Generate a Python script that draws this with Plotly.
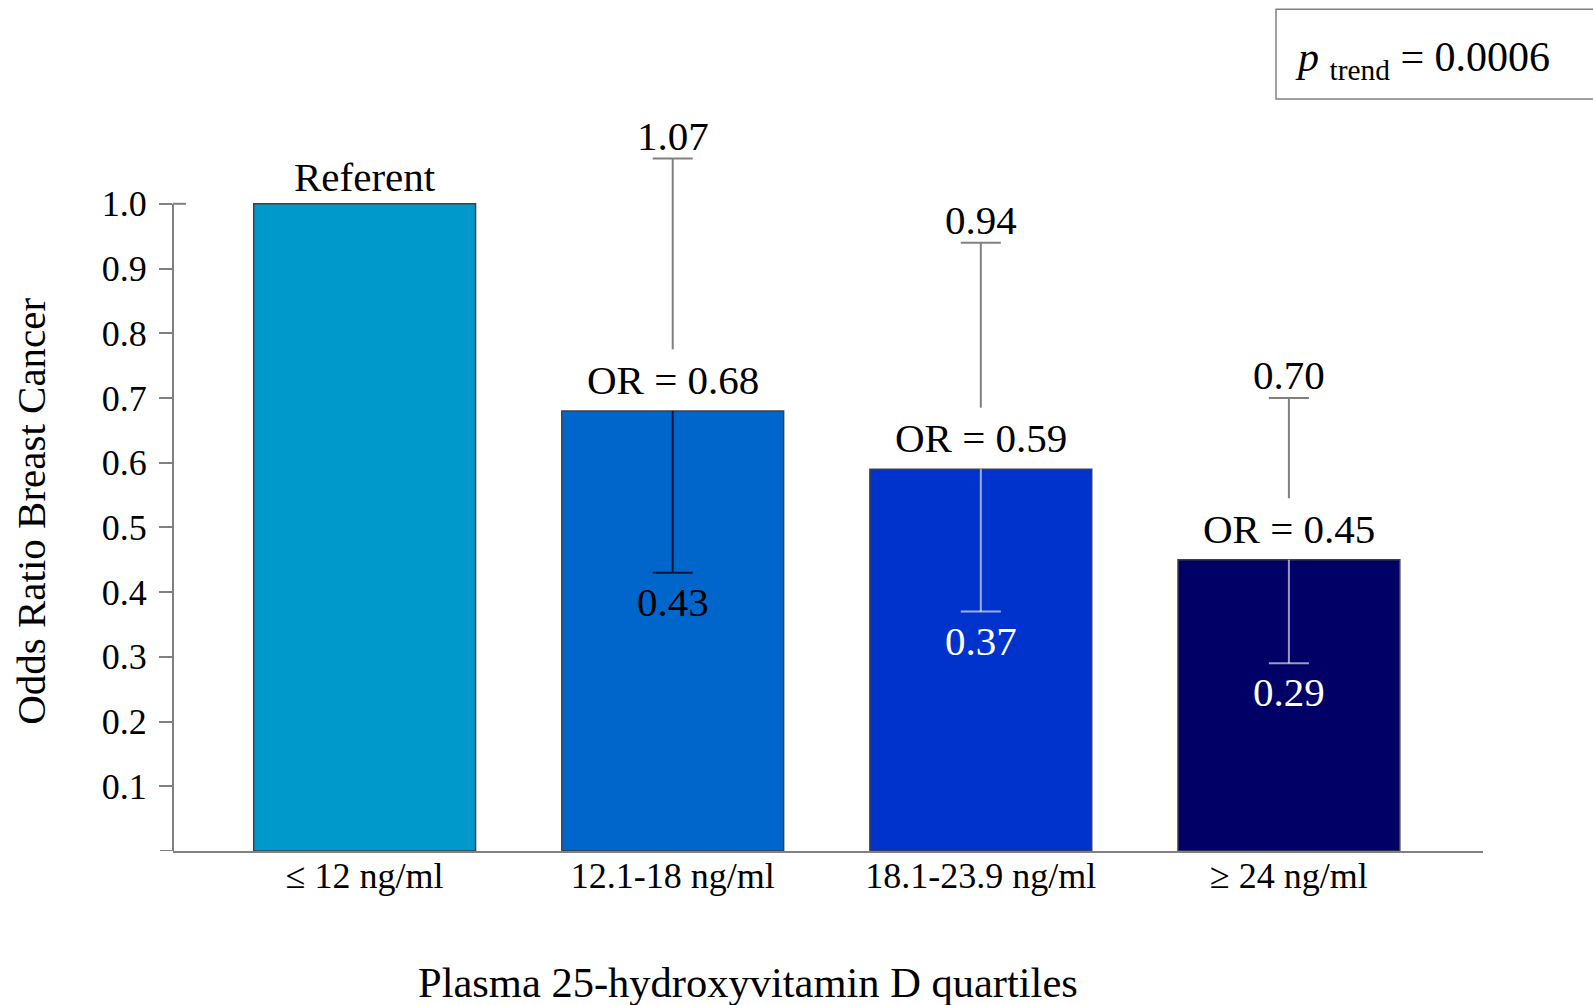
import plotly.graph_objects as go

# ---- data ----
categories = ["≤ 12 ng/ml", "12.1-18 ng/ml", "18.1-23.9 ng/ml", "≥ 24 ng/ml"]
odds_ratio = [1.0, 0.68, 0.59, 0.45]
ci_upper = [None, 1.07, 0.94, 0.70]
ci_lower = [None, 0.43, 0.37, 0.29]
or_labels = ["Referent", "OR = 0.68", "OR = 0.59", "OR = 0.45"]
ytick_vals = [0.1, 0.2, 0.3, 0.4, 0.5, 0.6, 0.7, 0.8, 0.9, 1.0]
ytick_text = ["0.1", "0.2", "0.3", "0.4", "0.5", "0.6", "0.7", "0.8", "0.9", "1.0"]

# ---- style ----
bar_colors = ["#0099CC", "#0066CC", "#0033CC", "#000066"]
lower_line_colors = [None, "rgba(10,20,50,0.95)", "rgba(255,255,255,0.6)", "rgba(255,255,255,0.6)"]
lower_text_colors = [None, "black", "white", "white"]
FONT = "Liberation Serif, Times New Roman, serif"
GRAY = "#808080"
cap_half = 0.065
label_gap = 0.095
PLOT_W = 1593 - 173 - 110
TICK_LEN = 13

xs = list(range(len(categories)))

fig = go.Figure()
fig.add_trace(go.Bar(
    x=xs, y=odds_ratio, width=0.72,
    marker=dict(color=bar_colors, line=dict(color="#404040", width=1.5)),
    showlegend=False, hoverinfo="skip",
))

# upper whiskers (gray, above label)
ux, uy = [], []
for i, (o, hi) in enumerate(zip(odds_ratio, ci_upper)):
    if hi is None:
        continue
    ux += [i, i, None, i - cap_half, i + cap_half, None]
    uy += [hi, o + label_gap, None, hi, hi, None]
fig.add_trace(go.Scatter(x=ux, y=uy, mode="lines", line=dict(color=GRAY, width=2),
                         showlegend=False, hoverinfo="skip"))

# lower whiskers (inside bars)
for i, (o, lo) in enumerate(zip(odds_ratio, ci_lower)):
    if lo is None:
        continue
    fig.add_trace(go.Scatter(
        x=[i, i, None, i - cap_half, i + cap_half], y=[o, lo, None, lo, lo],
        mode="lines", line=dict(color=lower_line_colors[i], width=2),
        showlegend=False, hoverinfo="skip"))

# OR labels above bars
for i, (o, lab) in enumerate(zip(odds_ratio, or_labels)):
    fig.add_annotation(x=i, y=o, xref="x", yref="y", text=lab, showarrow=False,
                       xanchor="center", yanchor="middle", yshift=(27 if i == 0 else 31),
                       font=dict(family=FONT, size=41, color="black"))
# CI labels
for i, (hi, lo) in enumerate(zip(ci_upper, ci_lower)):
    if hi is None:
        continue
    fig.add_annotation(x=i, y=hi, xref="x", yref="y", text=f"{hi:.2f}", showarrow=False,
                       xanchor="center", yanchor="middle", yshift=23,
                       font=dict(family=FONT, size=41, color="black"))
    fig.add_annotation(x=i, y=lo, xref="x", yref="y", text=f"{lo:.2f}", showarrow=False,
                       xanchor="center", yanchor="middle", yshift=-29,
                       font=dict(family=FONT, size=41, color=lower_text_colors[i]))

# y axis line up to top tick, right-side tick at top, and tick at origin
ytop = max(ytick_vals)
fig.add_shape(type="line", xref="paper", yref="y", x0=0, x1=0, y0=0, y1=ytop,
              line=dict(color=GRAY, width=2))
fig.add_shape(type="line", xref="paper", yref="y", x0=0, x1=TICK_LEN / PLOT_W, y0=ytop, y1=ytop,
              line=dict(color=GRAY, width=2))
fig.add_shape(type="line", xref="paper", yref="y", x0=-TICK_LEN / PLOT_W, x1=0, y0=0, y1=0,
              line=dict(color=GRAY, width=2))

# p-trend box
fig.add_shape(type="rect", xref="paper", yref="paper", x0=0.842, x1=1.1, y0=0.9295, y1=1.0404,
              line=dict(color=GRAY, width=1.5), fillcolor="rgba(0,0,0,0)")
fig.add_annotation(xref="paper", yref="paper", x=0.954, y=0.978, xanchor="center", yanchor="middle",
                   text="<i>p</i> <sub>trend</sub> = 0.0006", showarrow=False,
                   font=dict(family=FONT, size=42, color="black"))

# axis titles
fig.add_annotation(xref="paper", yref="paper", x=0.439, y=-0.162, xanchor="center", yanchor="middle",
                   text="Plasma 25-hydroxyvitamin D quartiles", showarrow=False,
                   font=dict(family=FONT, size=42.5, color="black"))
fig.add_annotation(xref="paper", yref="paper", x=-0.109, y=0.4195, xanchor="center", yanchor="middle",
                   text="Odds Ratio Breast Cancer", textangle=-90, showarrow=False,
                   font=dict(family=FONT, size=41, color="black"))

fig.update_layout(
    width=1593, height=1005,
    margin=dict(l=173, r=110, t=42, b=154),
    plot_bgcolor="white", paper_bgcolor="white",
    font=dict(family=FONT, color="black"),
    xaxis=dict(range=[-0.622, 3.63], tickvals=xs, ticktext=categories,
               showline=True, linecolor=GRAY, linewidth=2, ticks="",
               showgrid=False, zeroline=False, ticklabelstandoff=-8,
               tickfont=dict(family=FONT, size=36, color="black")),
    yaxis=dict(range=[0, 1.25], tickvals=ytick_vals, ticktext=ytick_text,
               showline=False, ticks="outside", ticklen=TICK_LEN, tickwidth=2, tickcolor=GRAY,
               showgrid=False, zeroline=False, ticklabelstandoff=5,
               tickfont=dict(family=FONT, size=36, color="black")),
)

fig.write_html("out.html")
